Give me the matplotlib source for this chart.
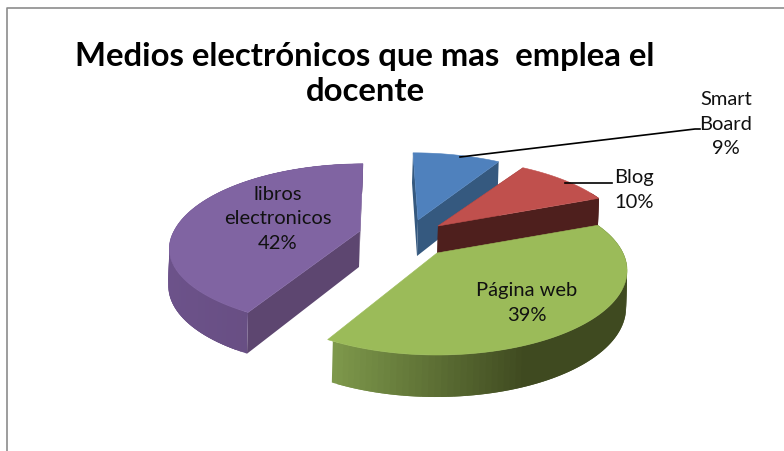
import numpy as np
import matplotlib
matplotlib.use("Agg")
import matplotlib.pyplot as plt
from matplotlib.patches import Polygon
from matplotlib.colors import to_rgb

title_text = "Medios electrónicos que mas  emplea el\ndocente"
categories = ["Smart\nBoard", "Blog", "Página web", "libros\nelectronicos"]
percent = [9, 10, 39, 42]

top_colors = ["#4f81bd", "#c0504d", "#9bbb59", "#8064a2"]
wall_colors = ["#35597f", "#4e1f1d", "#5a7034", "#5d4670"]
rim_left = ["#3f6590", "#4e1f1d", "#7f9a4c", "#6c528a"]
rim_mid = ["#3f6590", "#4e1f1d", "#3f4a20", "#664d80"]
apex = [(418, 220), (438, 226), (437, 253), (360, 231)]
lean = [-5, 0, 0, 3]
front_squash = [1, 1, 1, 0.94]
label_pos = [(726, 124), (634, 190), (527, 303), (278, 219)]

fig = plt.figure(figsize=(7.84, 4.51), dpi=100)
ax = fig.add_axes([0, 0, 1, 1])
ax.set_xlim(0, 784)
ax.set_ylim(451, 0)
ax.axis("off")

ax.plot([7.5, 7.5, 784], [451, 7.5, 7.5], color="#8c8c8c", lw=1.2, solid_capstyle="butt")

FX, FY, K = 186.0, 81.0, 0.206


def project(theta, i):
    X, Z = np.sin(theta), np.cos(theta)
    s = 1 / (1 + K * Z)
    yy = FY * Z * s
    yy = np.where(Z < 0, yy * front_squash[i], yy)
    return apex[i][0] + FX * X * s + lean[i] * Z, apex[i][1] - yy


def depth(theta):
    return 36 - 6 * np.cos(theta)


edges = np.radians(np.concatenate([[0], np.cumsum(percent)]) * 3.6)


def draw_slice(i):
    a0, a1 = edges[i], edges[i + 1]
    th = np.linspace(a0, a1, 90)
    x, y = project(th, i)
    ax0, ay0 = apex[i]
    dd = depth(th)
    # flat side walls from the apex to both ends of the arc (the green ones face away)
    if i != 2:
        for k in (0, -1):
            wall = [(ax0, ay0), (x[k], y[k]), (x[k] - 1, y[k] + dd[k]), (ax0 - 1, ay0 + 36)]
            ax.add_patch(Polygon(wall, closed=True, fc=wall_colors[i], ec="none", zorder=10 + i))
    # outer rim, shaded strip by strip; each strip overlaps the next to avoid seams
    vis = np.cos(th) < 0.45 if i != 3 else np.ones_like(th, bool)
    c0, c1 = np.array(to_rgb(rim_left[i])), np.array(to_rgb(rim_mid[i]))
    xmin, xmax = x.min(), x.max()
    idx = [j for j in range(len(th) - 1) if vis[j]]
    if i == 2:
        idx = idx[::-1]  # paint the overlap consistently from the front
    for j in idx:
        j2 = min(j + 3, len(th) - 1) if i != 2 else max(j - 2, 0)
        q = [(x[j], y[j]), (x[j2], y[j2]), (x[j2] - 1, y[j2] + dd[j2]), (x[j] - 1, y[j] + dd[j])]
        f = min(1, (x[j] - xmin) / (0.65 * (xmax - xmin)))
        ax.add_patch(Polygon(q, closed=True, fc=c0 + (c1 - c0) * f, ec="none", zorder=10 + i))
    top = np.column_stack([np.r_[ax0, x], np.r_[ay0, y]])
    ax.add_patch(Polygon(top, closed=True, fc=top_colors[i], ec=top_colors[i], lw=0.4, zorder=10 + i))


for i in [0, 3, 1, 2]:
    draw_slice(i)

ax.plot([460, 695, 700], [157, 129, 129], color="black", lw=1.2, zorder=20)
ax.plot([565, 612], [183, 183], color="black", lw=1.2, zorder=20)

FONT = "Lato"
for name, pct, (lx, ly) in zip(categories, percent, label_pos):
    ax.text(lx, ly, f"{name}\n{pct}%", ha="center", va="center", fontsize=14.5,
            family=FONT, color="#111111", linespacing=1.54, zorder=30)

ax.text(365, 74, title_text, ha="center", va="center", fontsize=23.7,
        family=FONT, weight="bold", color="black", linespacing=1.26, zorder=30)

fig.savefig("out.png", dpi=100, facecolor="white")
